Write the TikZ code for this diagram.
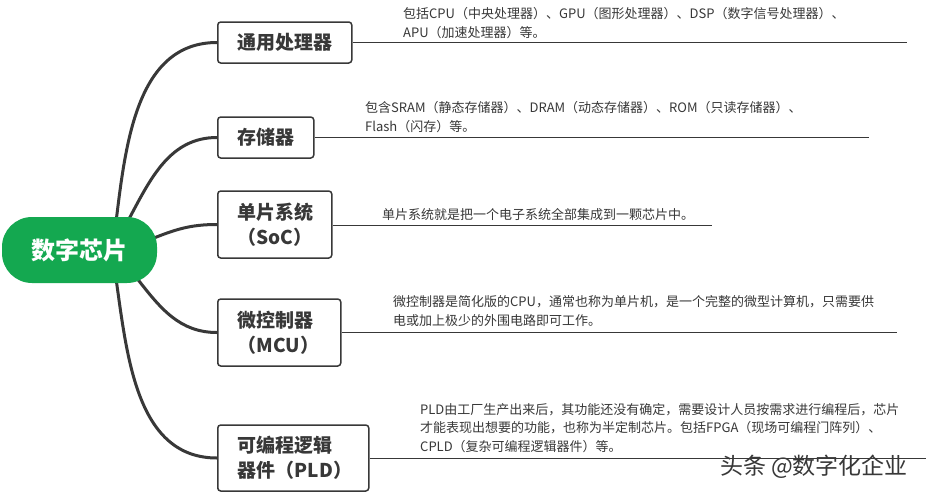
\documentclass[tikz,border=0pt]{standalone}
\usepackage{fontspec}
\setmainfont{Noto Sans CJK SC}
\usetikzlibrary{backgrounds,positioning}
\definecolor{chipgreen}{RGB}{20,168,80}
\definecolor{inkgray}{RGB}{56,56,56}
\tikzset{
  chipnode/.style={fill=chipgreen, rounded corners=30pt, minimum width=155pt, minimum height=66pt, text=white, font=\bfseries\fontsize{24}{28}\selectfont},
  catbox/.style={draw=inkgray, line width=1.5pt, rounded corners=3pt, fill=white, align=left, inner xsep=20pt, inner ysep=0pt, anchor=west, text=inkgray, font=\bfseries\fontsize{19}{25}\selectfont},
  branch/.style={draw=inkgray, line width=3pt},
  leadline/.style={draw=inkgray, line width=1pt},
  note/.style={align=left, inner sep=0pt, anchor=base west, text=inkgray, font=\fontsize{13}{18.5}\selectfont},
}
\begin{document}
\begin{tikzpicture}[x=1pt, y=-1pt]
\useasboundingbox (0,0) rectangle (926,493);
% root
\node[chipnode] (chip) at (79.5,250) {数字芯片};
% categories
\node[catbox, text width=94pt, minimum height=41pt] (cpu) at (217,42.5) {通用处理器};
\node[catbox, text width=56pt, minimum height=41pt] (mem) at (217,137.5) {存储器};
\node[catbox, text width=74pt, minimum height=67pt] (soc) at (217,224.5) {单片系统\\（SoC）};
\node[catbox, text width=83pt, minimum height=67pt] (mcu) at (217,332.5) {微控制器\\（MCU）};
\node[catbox, text width=111pt, minimum height=66pt] (pld) at (217,458) {可编程逻辑\\器件（PLD）};
% line ends
\coordinate (cpuend) at (907,42.5);
\coordinate (memend) at (869,137.5);
\coordinate (socend) at (712,225.5);
\coordinate (mcuend) at (897,332.5);
\coordinate (pldend) at (926,458);
\draw[leadline] (cpu.east) -- (cpuend);
\draw[leadline] (mem.east) -- (memend);
\draw[leadline] (soc.east |- socend) -- (socend);
\draw[leadline] (mcu.east) -- (mcuend);
\draw[leadline] (pld.east) -- (pldend);
% notes (anchored at the baseline of the last row)
\node[note] (cpunote) at (403,37) {包括CPU（中央处理器）、GPU（图形处理器）、DSP（数字信号处理器）、\\APU（加速处理器）等。};
\node[note] (memnote) at (365,131) {包含SRAM（静态存储器）、DRAM（动态存储器）、ROM（只读存储器）、\\Flash（闪存）等。};
\node[note] (socnote) at (382,219) {单片系统就是把一个电子系统全部集成到一颗芯片中。};
\node[note] (mcunote) at (393,325) {微控制器是简化版的CPU，通常也称为单片机，是一个完整的微型计算机，只需要供\\电或加上极少的外围电路即可工作。};
\node[note] (pldnote) at (420,451) {PLD由工厂生产出来后，其功能还没有确定，需要设计人员按需求进行编程后，芯片\\才能表现出想要的功能，也称为半定制芯片。包括FPGA（现场可编程门阵列）、\\CPLD（复杂可编程逻辑器件）等。};
\node[text=inkgray, font=\fontsize{23}{27}\selectfont] (mark) at (814,467) {头条 @数字化企业};
% connectors
\begin{scope}[on background layer]
\fill[white] (0,0) rectangle (926,493);
\draw[branch] ([shift={(37,-32)}]chip.center) to[out=83, in=180] (cpu.west);
\draw[branch] ([shift={(50,-32)}]chip.center) to[out=62, in=180] (mem.west);
\draw[branch] ([shift={(72,-11)}]chip.center) to[out=22, in=180] (soc.west);
\draw[branch] ([shift={(58,29)}]chip.center) to[out=-52, in=180] (mcu.west);
\draw[branch] ([shift={(37,32)}]chip.center) to[out=-82, in=180] (pld.west);
\end{scope}
\end{tikzpicture}
\end{document}
